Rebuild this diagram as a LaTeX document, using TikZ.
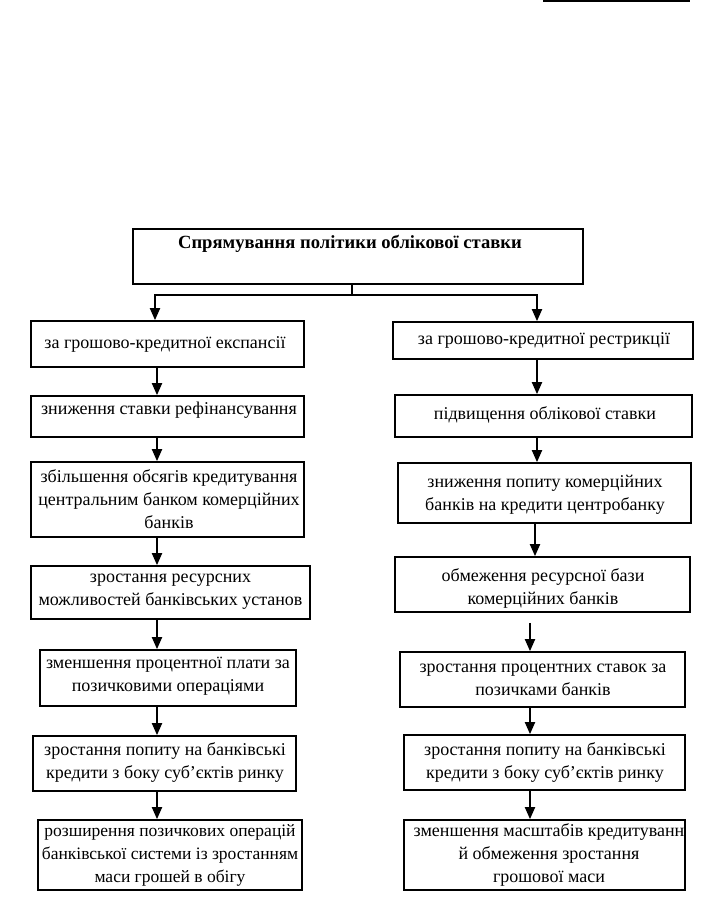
\documentclass[tikz,border=0pt]{standalone}
\usepackage{fontspec}
\setmainfont{Liberation Serif}
\usetikzlibrary{arrows.meta}
\begin{document}
\begin{tikzpicture}[x=1pt,y=-1pt,
  boxnode/.style={draw, line width=1.7pt, inner sep=0pt},
  txt/.style={align=center, inner sep=0pt, font=\fontsize{18}{23}\selectfont},
  txtsm/.style={align=center, inner sep=0pt, font=\fontsize{17.5}{23}\selectfont},
  ttl/.style={align=center, inner sep=0pt, font=\fontsize{18.6}{23}\selectfont\bfseries},
  arr/.style={line width=1.9pt, -{Triangle[length=12pt,width=10pt]}},
  ln/.style={line width=1.7pt}]
\useasboundingbox (0,0) rectangle (715,908);

% top rule
\coordinate (tl1) at (543,1);
\coordinate (tl2) at (690,1);
\draw[line width=2pt] (tl1) -- (tl2);

% title
\node[boxnode, minimum width=450pt, minimum height=55pt] (t) at (358,256.5) {};
\node[ttl] (tt) at (350,244) {Спрямування політики облікової ставки};

% left column
\node[boxnode, minimum width=273pt, minimum height=46pt] (b1) at (167.5,344) {};
\node[txt] (b1t) at (165,344) {за грошово-кредитної експансії};
\node[boxnode, minimum width=273pt, minimum height=41pt] (b2) at (167.5,416.5) {};
\node[txt] (b2t) at (169,410) {зниження ставки рефінансування};
\node[boxnode, minimum width=273pt, minimum height=75pt] (b3) at (167.5,499.5) {};
\node[txt] (b3t) at (169,499.5) {збільшення обсягів кредитування\\центральним банком комерційних\\банків};
\node[boxnode, minimum width=279pt, minimum height=53pt] (b4) at (170.5,592.5) {};
\node[txt] (b4t) at (170.5,592) {зростання ресурсних\\можливостей банківських установ};
\node[boxnode, minimum width=256pt, minimum height=56pt] (b5) at (168,678) {};
\node[txt] (b5t) at (168,676) {зменшення процентної плати за\\позичковими операціями};
\node[boxnode, minimum width=263pt, minimum height=55pt] (b6) at (164.5,763.5) {};
\node[txt] (b6t) at (165,762) {зростання попиту на банківські\\кредити з боку суб’єктів ринку};
\node[boxnode, minimum width=264pt, minimum height=70pt] (b7) at (170,855) {};
\node[txtsm] (b7t) at (170,855) {розширення позичкових операцій\\банківської системи із зростанням\\маси грошей в обігу};

% right column
\node[boxnode, minimum width=300pt, minimum height=37pt] (r1) at (543,340.5) {};
\node[txt] (r1t) at (544,340) {за грошово-кредитної рестрикції};
\node[boxnode, minimum width=297pt, minimum height=42pt] (r2) at (543.5,416) {};
\node[txt] (r2t) at (545,415) {підвищення облікової ставки};
\node[boxnode, minimum width=293pt, minimum height=60pt] (r3) at (544.5,493) {};
\node[txt] (r3t) at (545,495) {зниження попиту комерційних\\банків на кредити центробанку};
\node[boxnode, minimum width=295pt, minimum height=55pt] (r4) at (542.5,584.5) {};
\node[txt] (r4t) at (543,588) {обмеження ресурсної бази\\комерційних банків};
\node[boxnode, minimum width=285pt, minimum height=55pt] (r5) at (542.5,679.5) {};
\node[txt] (r5t) at (543,680) {зростання процентних ставок за\\позичками банків};
\node[boxnode, minimum width=281pt, minimum height=55pt] (r6) at (544.5,762.5) {};
\node[txt] (r6t) at (545,762) {зростання попиту на банківські\\кредити з боку суб’єктів ринку};
\node[boxnode, minimum width=281pt, minimum height=70pt] (r7) at (544.5,855) {};
\node[txt] (r7t) at (549,855) {зменшення масштабів кредитуванн\\й обмеження зростання\\грошової маси};

% connectors
\coordinate (j) at (352,295);
\coordinate (lx0) at (155,0);
\coordinate (rx0) at (537,0);
\coordinate (lx) at (157,0);
\coordinate (rxa) at (537,0);
\coordinate (rxb) at (535,0);
\coordinate (rxc) at (530,0);
\draw[ln] (t.south -| j) -- (j);
\draw[arr] (j) -| (b1.north -| lx0);
\draw[arr] (j) -| (r1.north -| rx0);

\draw[arr] (b1.south -| lx) -- (b2.north -| lx);
\draw[arr] (b2.south -| lx) -- (b3.north -| lx);
\draw[arr] (b3.south -| lx) -- (b4.north -| lx);
\draw[arr] (b4.south -| lx) -- (b5.north -| lx);
\draw[arr] (b5.south -| lx) -- (b6.north -| lx);
\draw[arr] (b6.south -| lx) -- (b7.north -| lx);

\draw[arr] (r1.south -| rxa) -- (r2.north -| rxa);
\draw[arr] (r2.south -| rxa) -- (r3.north -| rxa);
\draw[arr] (r3.south -| rxb) -- (r4.north -| rxb);
\draw[arr, shorten <=10pt] (r4.south -| rxc) -- (r5.north -| rxc);
\draw[arr] (r5.south -| rxc) -- (r6.north -| rxc);
\draw[arr] (r6.south -| rxc) -- (r7.north -| rxc);
\end{tikzpicture}
\end{document}
